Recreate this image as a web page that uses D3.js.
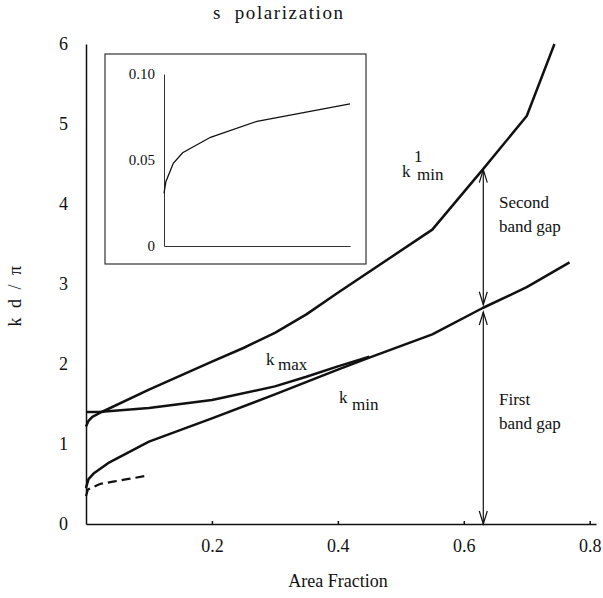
<!DOCTYPE html>
<html>
<head>
<meta charset="utf-8">
<script src="https://cdn.jsdelivr.net/npm/d3@7"></script>
<style>
  body { margin: 0; background: #fff; }
</style>
</head>
<body>
<div class="graph"></div>
<script>
// data //
let xTicks = [0.2, 0.4, 0.6, 0.8];
let yTicks = [0, 1, 2, 3, 4, 5, 6];

let k1MinX = [0, 0.004, 0.01, 0.025, 0.1, 0.2, 0.25, 0.3, 0.35, 0.4, 0.55, 0.63, 0.7, 0.744];
let k1MinY = [1.22, 1.29, 1.34, 1.40, 1.68, 2.03, 2.2, 2.39, 2.62, 2.89, 3.68, 4.43, 5.10, 6.0];

let kMaxX = [0, 0.02, 0.1, 0.2, 0.3, 0.35, 0.4, 0.45];
let kMaxY = [1.40, 1.40, 1.45, 1.55, 1.72, 1.84, 1.97, 2.09];

let kMinX = [0, 0.004, 0.012, 0.035, 0.1, 0.2, 0.3, 0.4, 0.45, 0.55, 0.63, 0.7, 0.768];
let kMinY = [0.45, 0.56, 0.63, 0.76, 1.03, 1.32, 1.62, 1.93, 2.08, 2.37, 2.70, 2.96, 3.27];

let dashX = [0, 0.003, 0.022, 0.043, 0.065, 0.094];
let dashY = [0.35, 0.43, 0.50, 0.53, 0.56, 0.60];

// inset
let insetX = [0, 0.0001, 0.0005, 0.001, 0.0025, 0.005, 0.01];
let insetY = [0.0306, 0.0374, 0.0481, 0.0542, 0.0632, 0.0725, 0.0826];
let insetTicks = [0, 0.05, 0.10];
let insetLabels = ['0', '0.05', '0.10'];

// band gap arrows
let gapX = 0.631;
let firstGap = [0, 2.65];
let secondGap = [2.74, 4.43];

//various constants//
let W = 603;
let H = 598;
let serif = '"Liberation Serif", "Times New Roman", Times, "DejaVu Serif", serif';

let svg = d3.select('.graph')
    .append('svg')
    .attr('width', W)
    .attr('height', H)
    .attr('font-family', serif);

let xScale = d3.scaleLinear().domain([0, 0.81]).range([86, 596]);
let yScale = d3.scaleLinear().domain([0, 6]).range([524, 44]);

let line = d3.line()
    .x(d => xScale(d[0]))
    .y(d => yScale(d[1]));

// axes
let xAxis = d3.axisBottom(xScale)
    .tickValues(xTicks)
    .tickSizeInner(-3)
    .tickSizeOuter(0)
    .tickPadding(15)
    .tickFormat(d3.format('.1f'));

let yAxis = d3.axisLeft(yScale)
    .tickValues(yTicks)
    .tickSize(0)
    .tickPadding(18)
    .tickFormat(d3.format('d'));

let gx = svg.append('g')
    .attr('transform', 'translate(0,' + yScale(0) + ')')
    .call(xAxis);
let gy = svg.append('g')
    .attr('transform', 'translate(' + xScale(0) + ',0)')
    .call(yAxis);

[gx, gy].forEach(g => {
    g.attr('font-family', serif);
    g.selectAll('path, line').attr('stroke', '#111').attr('stroke-width', 1.5);
    g.selectAll('text').style('font-size', '18px').style('font-family', serif).attr('fill', '#111');
});

// curves
function zip(xs, ys) {
    return xs.map((x, i) => [x, ys[i]]);
}

[zip(k1MinX, k1MinY), zip(kMaxX, kMaxY), zip(kMinX, kMinY)].forEach(pts => {
    svg.append('path')
        .datum(pts)
        .attr('d', line)
        .attr('fill', 'none')
        .attr('stroke', '#111')
        .attr('stroke-width', 2.5)
        .attr('stroke-linejoin', 'round');
});

svg.append('path')
    .datum(zip(dashX, dashY))
    .attr('d', line)
    .attr('fill', 'none')
    .attr('stroke', '#111')
    .attr('stroke-width', 2.2)
    .attr('stroke-dasharray', '9,5');

// arrows
function arrow(v0, v1) {
    let ax = xScale(gapX);
    let y0 = yScale(v0), y1 = yScale(v1);
    let g = svg.append('g').attr('stroke', '#111').attr('stroke-width', 1.2).attr('fill', 'none');
    g.append('line').attr('x1', ax).attr('x2', ax).attr('y1', y0).attr('y2', y1);
    // bottom head pointing down, top head pointing up
    g.append('path').attr('d', 'M' + (ax - 4) + ',' + (y0 - 13) + 'L' + ax + ',' + y0 + 'L' + (ax + 4) + ',' + (y0 - 13));
    g.append('path').attr('d', 'M' + (ax - 4) + ',' + (y1 + 13) + 'L' + ax + ',' + y1 + 'L' + (ax + 4) + ',' + (y1 + 13));
}
arrow(firstGap[0], firstGap[1]);
arrow(secondGap[0], secondGap[1]);

// text
function txt(x, y, s, size) {
    return svg.append('text')
        .attr('x', x).attr('y', y)
        .style('font-family', serif)
        .style('font-size', size + 'px')
        .attr('fill', '#111')
        .text(s);
}

txt(213, 19, 's\u00a0 polarization', 19).style('letter-spacing', '1.6px');
txt(338, 587, 'Area Fraction', 18).attr('text-anchor', 'middle');
txt(0, 0, 'k d / \u03c0', 18)
    .attr('transform', 'translate(21,295) rotate(-90)')
    .attr('text-anchor', 'middle')
    .style('letter-spacing', '2.5px');

function label(x, y, parts) {
    parts.forEach(p => txt(x + p[0], y + p[1], p[2], 17));
}
label(266, 365, [[0, 0, 'k'], [12, 5, 'max']]);
label(339, 403, [[0, 0, 'k'], [13, 7, 'min']]);
label(402, 177, [[0, 0, 'k'], [12, -15, '1'], [15, 3, 'min']]);

txt(499, 208, 'Second', 17);
txt(499, 232, 'band gap', 17);
txt(499, 405, 'First', 17);
txt(499, 429, 'band gap', 17);

// inset
svg.append('rect')
    .attr('x', 105).attr('y', 54)
    .attr('width', 261).attr('height', 210)
    .attr('fill', 'none')
    .attr('stroke', '#333')
    .attr('stroke-width', 1.2);

let xi = d3.scaleLinear().domain([0, 0.01]).range([164, 350]);
let yi = d3.scaleLinear().domain([0, 0.1]).range([246, 74]);

let gxi = svg.append('g')
    .attr('transform', 'translate(0,' + yi(0) + ')')
    .call(d3.axisBottom(xi).tickValues([]).tickSizeOuter(0));
let gyi = svg.append('g')
    .attr('transform', 'translate(' + xi(0) + ',0)')
    .call(d3.axisLeft(yi).tickValues(insetTicks).tickSize(0).tickPadding(9)
        .tickFormat((d, i) => insetLabels[i]));
[gxi, gyi].forEach(g => {
    g.attr('font-family', serif);
    g.selectAll('path').attr('stroke', '#333').attr('stroke-width', 1);
    g.selectAll('text').style('font-size', '15px').style('font-family', serif).attr('fill', '#111');
});

svg.append('path')
    .datum(zip(insetX, insetY))
    .attr('d', d3.line().x(d => xi(d[0])).y(d => yi(d[1])))
    .attr('fill', 'none')
    .attr('stroke', '#111')
    .attr('stroke-width', 1.3);
</script>
</body>
</html>
